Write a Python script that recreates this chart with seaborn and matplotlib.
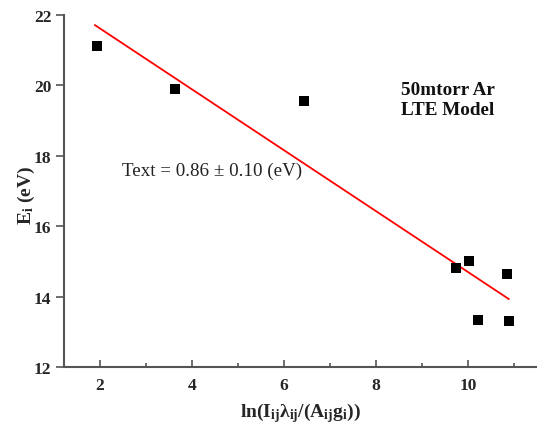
import numpy as np
import pandas as pd
import matplotlib
matplotlib.use("Agg")
import matplotlib.pyplot as plt
import seaborn as sns
from matplotlib.ticker import MultipleLocator

x_vals = [1.93, 3.63, 6.43, 9.74, 10.02, 10.22, 10.85, 10.89]
y_vals = [21.12, 19.90, 19.55, 14.82, 15.01, 13.33, 14.65, 13.30]
x_ticks = [2, 4, 6, 8, 10]
y_ticks = [12, 14, 16, 18, 20, 22]

sns.set_theme(style="white")
plt.rcParams['font.family'] = ['Liberation Serif', 'DejaVu Serif']
plt.rcParams['mathtext.fontset'] = 'custom'
plt.rcParams['mathtext.rm'] = 'Liberation Serif'
plt.rcParams['mathtext.bf'] = 'Liberation Serif:bold'
plt.rcParams['mathtext.it'] = 'Liberation Serif:italic'

df = pd.DataFrame({"x": x_vals, "y": y_vals})

fig = plt.figure(figsize=(5.37, 4.27), dpi=100)
ax = fig.add_axes([64/537, 1-368/427, 1-64/537, (368-16)/427])

sns.scatterplot(data=df, x="x", y="y", marker="s", s=45, color="black",
                edgecolor="black", linewidth=0, ax=ax, zorder=3)

slope, intercept = np.polyfit(df["x"], df["y"], 1)
xl = np.array([df["x"].min() - 0.04, df["x"].max()])
ax.plot(xl, slope * xl + intercept, color="#ff0000", lw=1.3, zorder=2)

ax.set_xlim(1.22, 11.5)
ax.set_ylim(12, 22)
ax.set_xticks(x_ticks)
ax.set_yticks(y_ticks)
ax.xaxis.set_minor_locator(MultipleLocator(1))

for s in ["top", "right"]:
    ax.spines[s].set_visible(False)
for s in ["left", "bottom"]:
    ax.spines[s].set_color("#555555")
    ax.spines[s].set_linewidth(1.5)

ax.tick_params(axis="x", which="major", direction="in", length=5, width=1.2,
               color="#555555", bottom=True, labelsize=12.5, pad=7)
ax.tick_params(axis="x", which="minor", direction="in", length=3, width=1.2,
               color="#555555", bottom=True)
ax.tick_params(axis="y", which="major", direction="out", length=6, width=1.2,
               color="#555555", left=True, labelsize=12.5, pad=3)
for lab in ax.get_xticklabels() + ax.get_yticklabels():
    lab.set_fontweight("bold")

ax.set_xlabel(r"ln(I$_{\mathbf{ij}}$$\mathbf{\lambda}_{\mathbf{ij}}$/(A$_{\mathbf{ij}}$g$_{\mathbf{i}}$))",
              fontsize=14, fontweight="bold", labelpad=5)
ax.set_ylabel(r"E$_{\mathbf{i}}$ (eV)", fontsize=14, fontweight="bold", labelpad=-3)
ax.yaxis.set_label_coords(-0.058, 0.49)

ax.text(2.48, 17.6, "Text = 0.86 ± 0.10 (eV)", fontsize=13.7,
        color="#222222", ha="left", va="center")
ax.text(8.55, 19.6, "50mtorr Ar\nLTE Model", fontsize=13.8, fontweight="bold",
        ha="left", va="center", linespacing=1.25, color="#111111")

fig.savefig("out.png", dpi=100)
